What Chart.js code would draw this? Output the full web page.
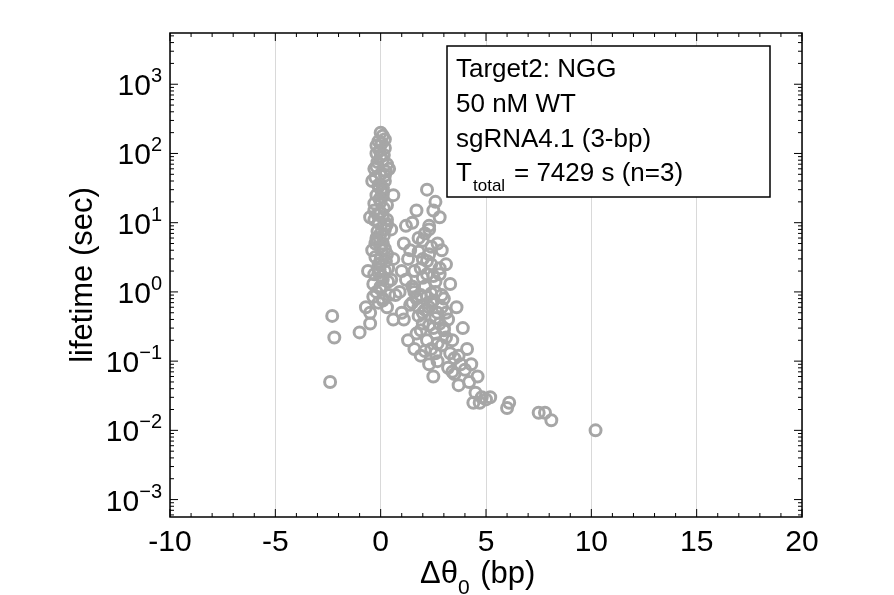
<!DOCTYPE html>
<html><head><meta charset="utf-8">
<script src="https://cdn.jsdelivr.net/npm/chart.js@4"></script>
<style>body{margin:0;background:#fff}#w{width:894px;height:595px}</style>
</head><body><div id="w"><canvas id="c"></canvas></div>
<script>
const xTicks=[-10,-5,0,5,10,15,20];
const yTicks=[1e-3,1e-2,1e-1,1,10,100,1000];
const yExps=["-3","-2","-1","0","1","2","3"];
const xVals=[0,0.1,-0.1,0.2,-0.2,0,0.1,0.3,-0.3,0,0.2,-0.1,0.1,-0.2,0,0.3,-0.3,0.1,-0.1,0.2,0,-0.2,0.1,-0.4,0.3,0,-0.1,0.2,-0.3,0.1,0,-0.2,0.4,0.1,-0.1,0.3,-0.5,0.6,0.5,0.6,-0.6,0.5,-0.5,0.6,-0.4,0.4,-0.2,0.2,0.05,-0.05,0.15,-0.15,0.25,-0.25,0.05,-0.05,0.15,-0.15,0.25,-0.25,0.05,-0.05,0.35,-0.35,0.7,-0.7,
-0.2,0.2,-0.1,0.1,0,-0.3,0.3,-0.15,0.15,0,-0.25,0.25,-0.05,0.05,0,0.35,-0.35,0.1,-0.1,0,0.2,-0.2,0.3,-0.3,0.1,
-2.3,-2.2,-1,-2.4,-0.5,1,1.1,0.9,1,1.2,
1.5,2.2,2.5,2.3,1.8,2.7,1.4,2,2.4,1.6,2.8,1.2,2.1,2.6,1.9,3,1.5,2.3,2.7,1.8,3.2,2,2.5,1.7,3.1,2.2,2.9,2.4,3.3,1.9,3.5,2.7,3.8,3.2,4,3.5,2.5,4.2,3.7,4.5,4.8,5.2,4.4,4.7,5.0,6.1,6,7.5,7.8,8.1,10.2,2.3,1.6,3,1.3,2.6,2.8,1.7,2.1,2.9,3.3,3.6,3.9,4.1,3.4,2.2,2.4,1.6,1.8,2.9,3.1,3.4,4.3,3.7,4.6,2.6,1.1,1.3,
1.5,1.9,2.3,2.6,1.7,2.1,2.5,2.8,1.4,2.0,2.4,2.2,1.8,2.6,3.0,2.0,2.3,2.7,1.6,2.9,2.1,2.5,1.9,2.2,2.8,3.1,2.4,2.0,2.6,2.3];
const yVals=[200,180,150,120,100,90,80,70,60,50,40,35,30,25,20,18,15,12,10,8,7,6,5,4,3.5,3,2.5,2,1.8,1.5,1.2,1,0.9,0.8,0.7,0.6,0.5,0.4,1.5,3,2,8,12,25,40,60,130,160,140,110,95,75,55,45,28,22,16,13,9,5,4,6,2.2,1.3,0.9,0.6,
65,48,33,26,14,11,9.5,7.5,6.5,4.5,3.2,2.8,2.1,1.7,1.1,1.4,0.85,0.75,1.9,2.6,4.2,5.5,11,19,32,
0.45,0.22,0.26,0.05,0.35,2,5,1,0.5,9,
10,30,15,8,6,5,4,3,2.5,2,1.8,1.5,1.2,1,0.9,0.8,0.7,0.6,0.5,0.45,0.4,0.35,0.3,0.25,0.22,0.2,0.17,0.15,0.13,0.12,0.11,0.1,0.09,0.08,0.075,0.065,0.06,0.05,0.045,0.035,0.03,0.03,0.025,0.025,0.028,0.025,0.021,0.018,0.018,0.014,0.01,0.09,0.15,0.3,3,20,12,15,7,4,1.3,0.6,0.3,0.15,0.2,1.8,4.5,1,0.6,0.9,2.5,0.07,0.09,0.12,0.06,0.25,0.4,0.2,
1.2,2.2,3.5,1.4,0.8,0.55,0.75,0.35,0.65,1.6,0.95,2.8,3.8,0.42,0.28,0.5,0.33,0.18,1.1,0.6,0.14,1.7,0.28,0.85,2.2,0.5,0.7,5.5,0.13,9];
const pts=xVals.map((x,i)=>({x:x,y:yVals[i]}));
const F='"Liberation Sans", Arial, sans-serif';
const deco={id:'deco',afterDraw(ch){
 const c=ch.ctx,a=ch.chartArea,xs=ch.scales.x,ys=ch.scales.y;
 c.save();c.strokeStyle='#000';c.lineWidth=1.5;
 c.strokeRect(a.left,a.top,a.right-a.left,a.bottom-a.top);
 c.lineWidth=1;c.beginPath();
 for(let v=-10;v<=20;v++){const px=xs.getPixelForValue(v),L=v%5===0?8:4;
  c.moveTo(px,a.bottom);c.lineTo(px,a.bottom-L);c.moveTo(px,a.top);c.lineTo(px,a.top+L);}
 for(let e=-4;e<=3;e++)for(let m=1;m<=9;m++){const v=m*Math.pow(10,e);const py=ys.getPixelForValue(v);
  if(py<a.top||py>a.bottom)continue;const L=m===1?8:4;
  c.moveTo(a.left,py);c.lineTo(a.left+L,py);c.moveTo(a.right,py);c.lineTo(a.right-L,py);}
 c.stroke();
 c.fillStyle='#000';c.textBaseline='alphabetic';
 // y tick labels
 yTicks.forEach((v,i)=>{const py=ys.getPixelForValue(v);
  c.font='20px '+F;const ew=c.measureText(yExps[i]==='-3'||yExps[i]==='-2'||yExps[i]==='-1'?'−'+yExps[i].slice(1):yExps[i]).width;
  const et=yExps[i][0]==='-'?'−'+yExps[i].slice(1):yExps[i];
  const right=162;c.textAlign='left';c.fillText(et,right-ew,py-2);
  c.font='30px '+F;const bw=c.measureText('10').width;c.fillText('10',right-ew-bw,py+11);});
 // legend box
 c.fillStyle='#fff';c.fillRect(447,46,323,151);c.lineWidth=1.5;c.strokeRect(447,46,323,151);
 c.fillStyle='#000';c.font='26px '+F;c.textAlign='left';
 c.fillText('Target2: NGG',456,77);c.fillText('50 nM WT',456,112);c.fillText('sgRNA4.1 (3-bp)',456,147);
 c.fillText('T',456,181);c.font='17px '+F;c.fillText('total',473,191);c.font='26px '+F;c.fillText('= 7429 s (n=3)',514,181);
 // axis titles
 c.font='31px '+F;c.textAlign='center';
 c.save();c.translate(82,275);c.rotate(-Math.PI/2);c.fillText('lifetime (sec)',0,10);c.restore();
 c.textAlign='left';c.fillText('Δθ',420,583);let w=c.measureText('Δθ').width;
 c.font='21px '+F;c.fillText('0',420+w,594);let w2=c.measureText('0').width;
 c.font='31px '+F;c.fillText(' (bp)',420+w+w2+2,583);
 c.restore();}};
new Chart(document.getElementById('c'),{type:'scatter',
 data:{datasets:[{data:pts,pointRadius:5.5,pointHoverRadius:5.5,borderColor:'#a6a6a6',backgroundColor:'rgba(0,0,0,0)',borderWidth:3}]},
 options:{responsive:true,maintainAspectRatio:false,animation:false,
  layout:{padding:{top:33,right:92,left:0,bottom:0}},
  plugins:{legend:{display:false},tooltip:{enabled:false}},
  scales:{
   x:{type:'linear',min:-10,max:20,afterBuildTicks:s=>{s.ticks=xTicks.map(v=>({value:v}));},
    afterFit:s=>{s.height=78;},
    grid:{color:'#d9d9d9',drawTicks:false},border:{display:false},
    ticks:{color:'#000',font:{size:30,family:F},padding:8,maxRotation:0}},
   y:{type:'logarithmic',min:5.6e-4,max:5.5e3,afterBuildTicks:s=>{s.ticks=yTicks.map(v=>({value:v}));},
    afterFit:s=>{s.width=170;},
    grid:{display:false},border:{display:false},
    ticks:{display:false}}
  }},plugins:[deco]});
</script></body></html>
